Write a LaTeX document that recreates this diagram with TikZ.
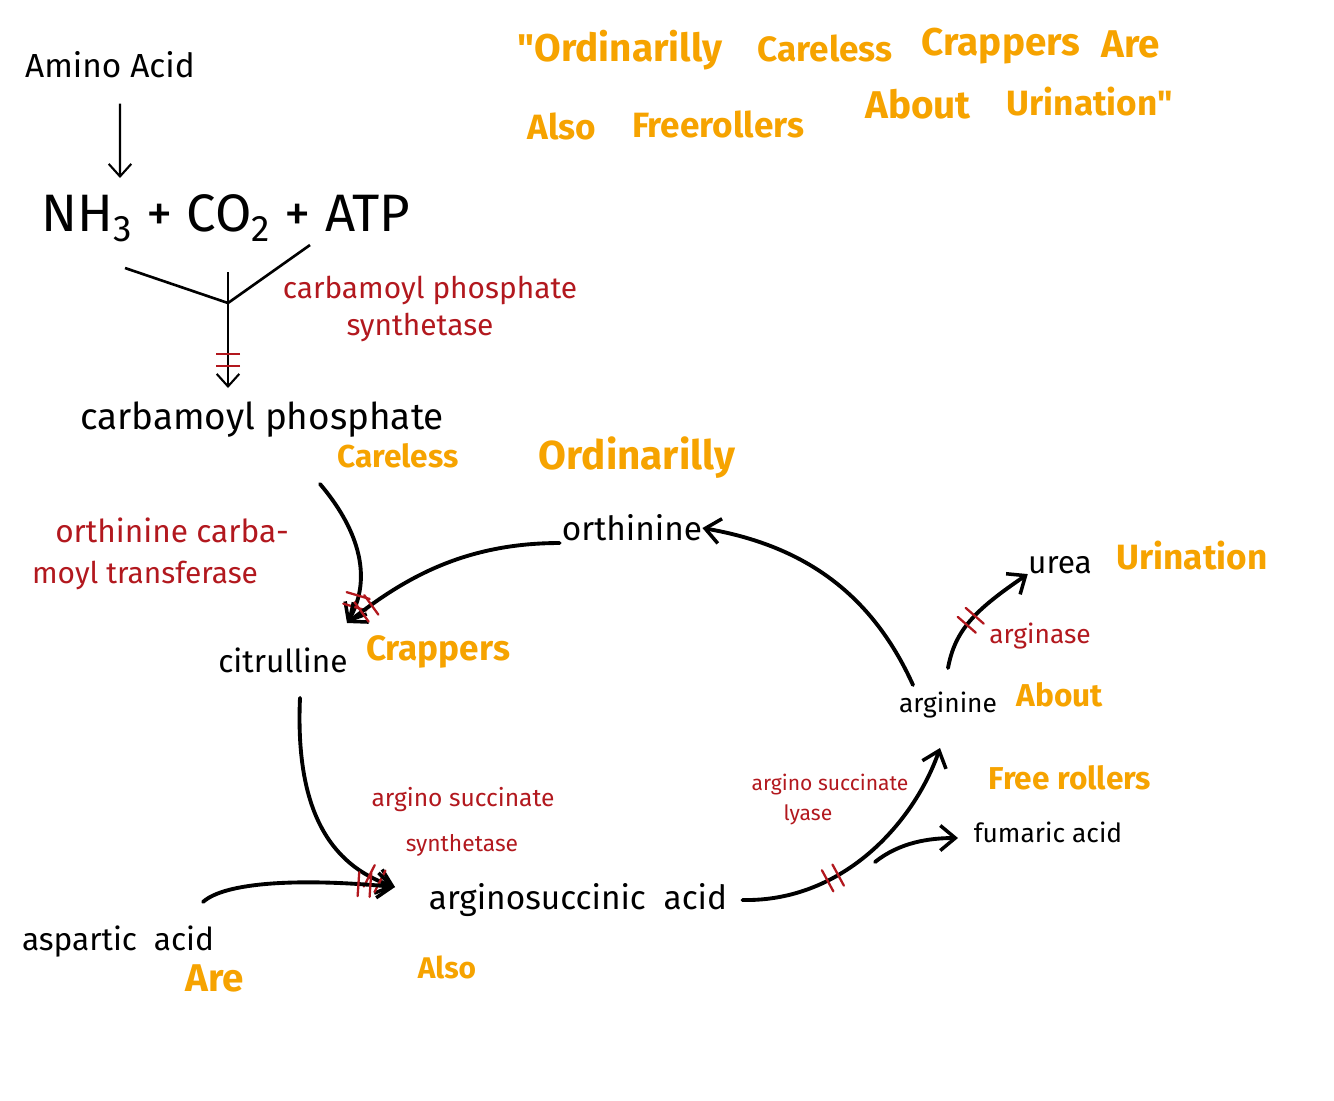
\documentclass[tikz,border=0pt]{standalone}
\usepackage{fontspec}
\setmainfont{Fira Sans}
\usetikzlibrary{arrows.meta}
\definecolor{mnemo}{RGB}{246,163,0}
\definecolor{enzyme}{RGB}{178,24,30}
\tikzset{
    blk/.style={text=black, inner sep=0pt, font=\fontsize{#1}{#1}\selectfont},
    blk/.default=18,
    mnem/.style={text=mnemo, inner sep=0pt, font=\bfseries\fontsize{#1}{#1}\selectfont},
    mnem/.default=18,
    enz/.style={text=enzyme, inner sep=0pt, font=\fontsize{#1}{#1}\selectfont},
    enz/.default=16,
    step arrow/.style={line width=2.2pt, line cap=round, -{Straight Barb[length=3mm,width=5mm,line width=2pt]}},
    thin arrow/.style={line width=1.2pt, -{Straight Barb[length=2.5mm,width=4.5mm]}}
}
\tikzset{
    block/.pic={
		\draw[enzyme, line width=1.3pt, -] (-6,-12) -- (-6,12);
		\draw[enzyme, line width=1.3pt, -] (6,-12) -- (6,12);
	}
}

\begin{document}
\begin{tikzpicture}[x=0.02cm, y=-0.02cm]
			\useasboundingbox (0,0) rectangle (1334,1100);
			% mnemonic
			\node[mnem=22] (t1) at (620,50) {\textquotedbl Ordinarilly};
			\node[mnem=20] (t2) at (825,48) {Careless};
			\node[mnem=22] (t3) at (1001,46) {Crappers};
			\node[mnem=22] (t4) at (1131,44) {Are};
			\node[mnem=20] (t5) at (562,126) {Also};
			\node[mnem=20] (t6) at (718,124) {Freerollers};
			\node[mnem=22] (t7) at (918,104) {About};
			\node[mnem=20] (t8) at (1090,102) {Urination\textquotedbl};
			% first step
			\node[blk=19] (amino) at (110,65) {Amino Acid};
			\node[blk=30] (reactants) at (226,218) {NH\textsubscript{3} + CO\textsubscript{2} + ATP};
			\coordinate (aminoin) at (120,178);
			\draw[thin arrow] ([xshift=0.2cm]amino.south) ++(0,-0.5cm) -- (aminoin);
			\coordinate (lbr) at (125,268);
			\coordinate (rbr) at (310,245);
			\coordinate (cpsjoin) at (228,303);
			\coordinate (stem) at (228,272);
			\draw[line width=1.5pt] (lbr) -- (cpsjoin) -- (rbr);
			\node[enz=17] (cps1) at (430,290) {carbamoyl phosphate};
			\node[enz=17] (cps2) at (420,327) {synthetase};
			\node[blk=21] (carbp) at (262,420) {carbamoyl phosphate};
			\coordinate (carbpin) at (228,388);
			\draw[thin arrow] (stem) -- (carbpin) pic[pos=0.76, sloped] {block};
			\node[mnem=18] (careless) at (398,456) {Careless};
			% the cycle
			\node[mnem=23] (ordin) at (637,458) {Ordinarilly};
			\node[blk=19] (orth) at (632,528) {orthinine};
			\node[enz=18] (otc1) at (172,530) {orthinine carba-};
			\node[enz=17] (otc2) at (145,575) {moyl transferase};
			\node[blk=18] (citr) at (283,660) {citrulline};
			\node[mnem=20] (crappers) at (438,652) {Crappers};
			\coordinate (citin) at (347,623);
			\draw[step arrow] (320,484) .. controls (355,525) and (375,575) .. (citin) pic[pos=0.85, sloped] {block};
			\draw[step arrow] (orth.west) ++(-2,15) .. controls (460,543) and (400,582) .. (citin) pic[pos=0.88, sloped] {block};
			\node[enz=14] (ass1) at (463,800) {argino succinate};
			\node[enz=13] (ass2) at (462,845) {synthetase};
			\node[blk=19] (argsucc) at (578,900) {arginosuccinic\ \ acid};
			\node[mnem=17] (also) at (447,967) {Also};
			\node[blk=18] (asp) at (118,942) {aspartic\ \ acid};
			\node[mnem=22] (are) at (215,978) {Are};
			\coordinate (argsuccin) at (395,887);
			\draw[step arrow] (citr.south) ++(17,25) .. controls (295,810) and (330,865) .. (argsuccin) pic[pos=0.89, sloped] {block};
			\draw[step arrow] (asp.north) ++(85,-24) .. controls (225,882) and (300,878) .. (argsuccin) pic[pos=0.89, sloped] {block};
			\node[enz=12] (asl1) at (830,785) {argino succinate};
			\node[enz=12] (asl2) at (808,815) {lyase};
			\node[blk=15] (argi) at (948,705) {arginine};
			\node[mnem=18] (about) at (1060,695) {About};
			\node[mnem=18] (free) at (1070,778) {Free rollers};
			\node[blk=15] (fum) at (1048,832) {fumaric acid};
			\coordinate (argiin) at (940,748);
			\coordinate (fumin) at (958,838);
			\draw[step arrow] (argsucc.east) ++(15,0) .. controls (845,902) and (915,820) .. (argiin) pic[pos=0.33, sloped] {block};
			\draw[step arrow] (875,862) .. controls (900,842) and (930,838) .. (fumin);
			\draw[step arrow] (913,685) .. controls (870,590) and (800,545) .. (orth.east);
			% urea
			\node[blk=18] (urea) at (1060,565) {urea};
			\node[mnem=20] (urin) at (1192,556) {Urination};
			\node[enz=15] (arginase) at (1040,636) {arginase};
			\draw[step arrow] (948,668) .. controls (955,630) and (975,610) .. (urea.south west) pic[pos=0.5, sloped] {block};
		\end{tikzpicture}
\end{document}
